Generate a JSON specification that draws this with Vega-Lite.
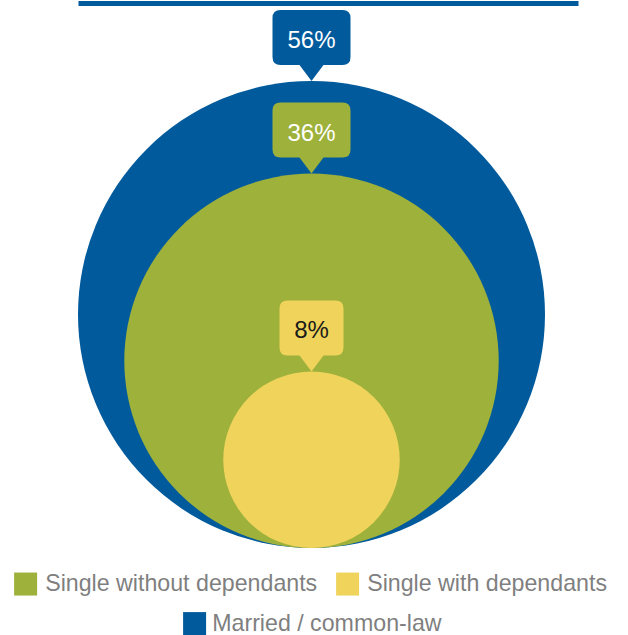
{
  "$schema": "https://vega.github.io/schema/vega-lite/v6.json",
  "width": 628,
  "height": 635,
  "autosize": "none",
  "padding": 0,
  "background": "white",
  "config": {"view": {"stroke": null}, "font": "Liberation Sans"},
  "data": {
    "values": [
      {"chart": "Households", "category": "Married / common-law", "value": 56, "label": "56%"},
      {"chart": "Households", "category": "Single without dependants", "value": 36, "label": "36%"},
      {"chart": "Households", "category": "Single with dependants", "value": 8, "label": "8%"}
    ]
  },
  "encoding": {
    "x": {
      "field": "chart",
      "type": "nominal",
      "scale": {"type": "point", "range": [78, 578], "align": 0.467},
      "axis": {"orient": "top", "domainColor": "#005A9C", "domainWidth": 5, "offset": -3, "ticks": false, "labels": false, "title": null, "grid": false}
    }
  },
  "layer": [
    {
      "transform": [{"filter": "datum.category === 'Married / common-law'"}],
      "mark": {"type": "point", "shape": "circle", "filled": true, "opacity": 1, "strokeWidth": 0},
      "encoding": {
        "y": {"field": "value", "type": "quantitative", "scale": {"type": "sqrt", "domain": [0, 56], "range": [548, 314.5], "nice": false}, "axis": null},
        "size": {"field": "value", "type": "quantitative", "scale": {"type": "linear", "domain": [0, 56], "range": [0, 218089]}, "legend": null},
        "fill": {
          "field": "category", "type": "nominal",
          "scale": {"domain": ["Married / common-law"], "range": ["#005A9C"]},
          "legend": {"orient": "none", "legendX": 183, "legendY": 612, "direction": "horizontal", "title": null, "symbolType": "square", "symbolSize": 529, "symbolStrokeWidth": 0, "symbolOpacity": 1, "labelFontSize": 23.2, "labelColor": "#7f7f7f", "labelOffset": 6, "labelLimit": 400, "padding": 0, "columnPadding": 18}
        }
      }
    },
    {
      "transform": [{"filter": "datum.category !== 'Married / common-law'"}],
      "mark": {"type": "point", "shape": "circle", "filled": true, "opacity": 1, "strokeWidth": 0},
      "encoding": {
        "y": {"field": "value", "type": "quantitative", "scale": {"type": "sqrt", "domain": [0, 56], "range": [548, 314.5], "nice": false}, "axis": null},
        "size": {"field": "value", "type": "quantitative", "scale": {"type": "linear", "domain": [0, 56], "range": [0, 218089]}, "legend": null},
        "color": {
          "field": "category", "type": "nominal",
          "scale": {"domain": ["Single without dependants", "Single with dependants"], "range": ["#9DB13B", "#EFD35B"]},
          "legend": {"orient": "none", "legendX": 14, "legendY": 572, "direction": "horizontal", "title": null, "symbolType": "square", "symbolSize": 529, "symbolStrokeWidth": 0, "symbolOpacity": 1, "labelFontSize": 23.2, "labelColor": "#7f7f7f", "labelOffset": 8, "labelLimit": 400, "padding": 0, "columnPadding": 18}
        }
      }
    },
    {
      "mark": {"type": "point", "filled": true, "opacity": 1, "strokeWidth": 0, "size": 4},
      "encoding": {
        "y": {"field": "value", "type": "quantitative", "scale": {"type": "sqrt", "domain": [0, 56], "range": [548, 81], "nice": false}, "axis": null},
        "shape": {
          "field": "category", "type": "nominal",
          "scale": {
            "domain": ["Married / common-law", "Single without dependants", "Single with dependants"],
            "range": [
              "M0,0L-12,-16L-31,-16Q-39,-16,-39,-24L-39,-63Q-39,-71,-31,-71L31,-71Q39,-71,39,-63L39,-24Q39,-16,31,-16L12,-16Z",
              "M0,0L-12,-16L-31,-16Q-39,-16,-39,-24L-39,-63Q-39,-71,-31,-71L31,-71Q39,-71,39,-63L39,-24Q39,-16,31,-16L12,-16Z",
              "M0,0L-12,-16L-24,-16Q-32,-16,-32,-24L-32,-63Q-32,-71,-24,-71L24,-71Q32,-71,32,-63L32,-24Q32,-16,24,-16L12,-16Z"
            ]
          },
          "legend": null
        },
        "fill": {
          "condition": [
            {"test": "datum.category === 'Married / common-law'", "value": "#005A9C"},
            {"test": "datum.category === 'Single without dependants'", "value": "#9DB13B"}
          ],
          "value": "#EFD35B"
        }
      }
    },
    {
      "mark": {"type": "text", "align": "center", "baseline": "alphabetic", "dy": -33, "fontSize": 24, "font": "Liberation Sans"},
      "encoding": {
        "y": {"field": "value", "type": "quantitative", "scale": {"type": "sqrt", "domain": [0, 56], "range": [548, 81], "nice": false}, "axis": null},
        "text": {"field": "label", "type": "nominal"},
        "color": {
          "condition": {"test": "datum.category === 'Single with dependants'", "value": "#1a1a1a"},
          "value": "#ffffff"
        }
      }
    }
  ],
  "resolve": {"scale": {"y": "independent"}}
}
